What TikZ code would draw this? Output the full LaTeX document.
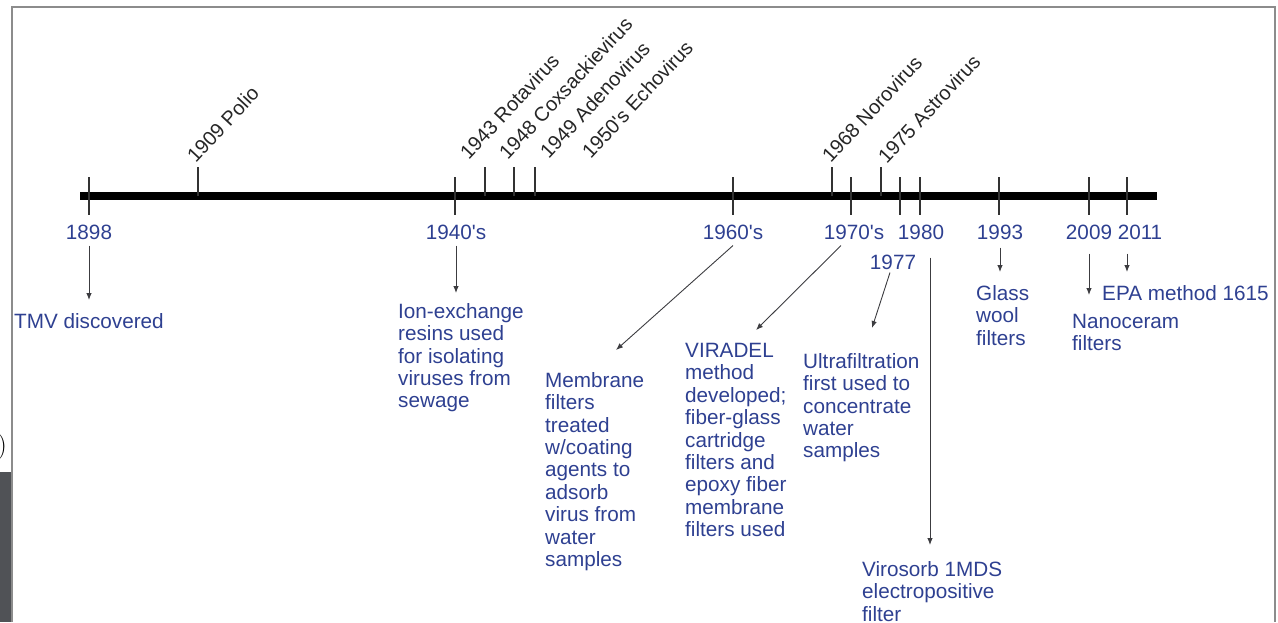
\documentclass[tikz,border=0pt]{standalone}
\usepackage{fontspec}
\newfontfamily\arialfont{Liberation Sans}
\usepackage{tikz}
\usetikzlibrary{arrows.meta}
\usetikzlibrary{positioning}
\usetikzlibrary{calc}

\definecolor{tlblue}{RGB}{46,64,145}
\definecolor{framegray}{RGB}{140,140,140}
\definecolor{bargray}{RGB}{80,82,86}
\definecolor{arrgray}{RGB}{60,60,64}

\tikzset{
	lbl/.style={font=\arialfont\fontsize{20.7}{22.4}\selectfont, inner sep=0pt},
	year/.style={lbl, text=tlblue},
	desc/.style={lbl, text=tlblue, align=left, anchor=north west},
	virus/.style={lbl, font=\arialfont\fontsize{20}{22}\selectfont, text=black!85, rotate=47, anchor=south west},
	tick/.style={draw=black!80, line width=1.2pt},
	arr/.style={draw=arrgray, line width=0.9pt, -{Latex[length=7pt,width=5.5pt]}}
}

\begin{document}
\begin{tikzpicture}[x=1pt, y=-1pt]
				\useasboundingbox (0,0) rectangle (1278,622);
				% frame and the cut edge on the left
				\fill[bargray] (0,472) rectangle (11,622);
				\draw[framegray, line width=1.5pt] (12,622) -- (12,7) -- (1275,7) -- (1275,622);
				\node[anchor=east, inner sep=0pt, font=\fontsize{26}{26}\selectfont] (cut) at (7,447) {)};

				% time line
				\draw[line width=7.5pt] (80,196) -- (1157,196);
				\foreach \x in {89,455,733,851,900,920,999,1089,1127}
					\draw[tick] (\x,177) -- (\x,215);
				\foreach \x in {198,485,514,535,832,881}
					\draw[tick] (\x,167) -- (\x,196);

				% viruses above the line
				\node[virus] (polio) at (196,164) {1909 Polio};
				\node[virus] (rota) at (469,161) {1943 Rotavirus};
				\node[virus] (coxs) at (508,161) {1948 Coxsackievirus};
				\node[virus] (adeno) at (549,160) {1949 Adenovirus};
				\node[virus] (echo) at (591,160) {1950's Echovirus};
				\node[virus] (noro) at (831,164) {1968 Norovirus};
				\node[virus] (astro) at (887,165) {1975 Astrovirus};

				% years below the line
				\node[year] (y1898) at (89,232) {1898};
				\node[year] (y1940s) at (456,232) {1940's};
				\node[year] (y1960s) at (733,232) {1960's};
				\node[year] (y1970s) at (854,232) {1970's};
				\node[year] (y1980) at (921,232) {1980};
				\node[year] (y1977) at (893,262) {1977};
				\node[year] (y1993) at (1000,232) {1993};
				\node[year] (y2009) at (1089,232) {2009};
				\node[year] (y2011) at (1140,232) {2011};

				% what happened
				\node[desc] (tmv) at (14,313) {TMV discovered};
				\node[desc] (ion) at (398,303) {Ion-exchange\\resins used\\for isolating\\viruses from\\sewage};
				\node[desc] (membrane) at (545,372) {Membrane\\filters\\treated\\w/coating\\agents to\\adsorb\\virus from\\water\\samples};
				\node[desc] (viradel) at (685,343) {VIRADEL\\method\\developed;\\fiber-glass\\cartridge\\filters and\\epoxy fiber\\membrane\\filters used};
				\node[desc] (ultra) at (803,353) {Ultrafiltration\\first used to\\concentrate\\water\\samples};
				\node[desc] (virosorb) at (862,561) {Virosorb 1MDS\\electropositive\\filter};
				\node[desc] (glass) at (976,285) {Glass\\wool\\filters};
				\node[desc] (nano) at (1072,314) {Nanoceram\\filters};
				\node[desc] (epa) at (1102,285) {EPA method 1615};

				\draw[arr, shorten >=13pt] ([yshift=-6pt]y1898.south) -- (y1898.south |- tmv.north);
				\draw[arr, shorten >=10pt] ([yshift=-6pt]y1940s.south) -- (y1940s.south |- ion.north);
				\draw[arr] ([yshift=-6pt]y1960s.south) -- ([shift={(71,-22)}]membrane.north west);
				\draw[arr] ([shift={(-13,6)}]y1970s.south) -- ([shift={(71,-13)}]viradel.north west);
				\draw[arr] ([shift={(-3,3)}]y1977.south) -- ([shift={(69,-25)}]ultra.north west);
				\draw[arr] ([shift={(9,18)}]y1980.south) -- ([shift={(68,-16)}]virosorb.north west);
				\draw[arr, shorten >=13pt] ([yshift=-8pt]y1993.south) -- (y1993.south |- glass.north);
				\draw[arr, shorten >=19pt] ([yshift=-14pt]y2009.south) -- (y2009.south |- nano.north);
				\draw[arr] ([shift={(-13,14)}]y2011.south) -- ([shift={(25,-13)}]epa.north west);
			\end{tikzpicture}
\end{document}
